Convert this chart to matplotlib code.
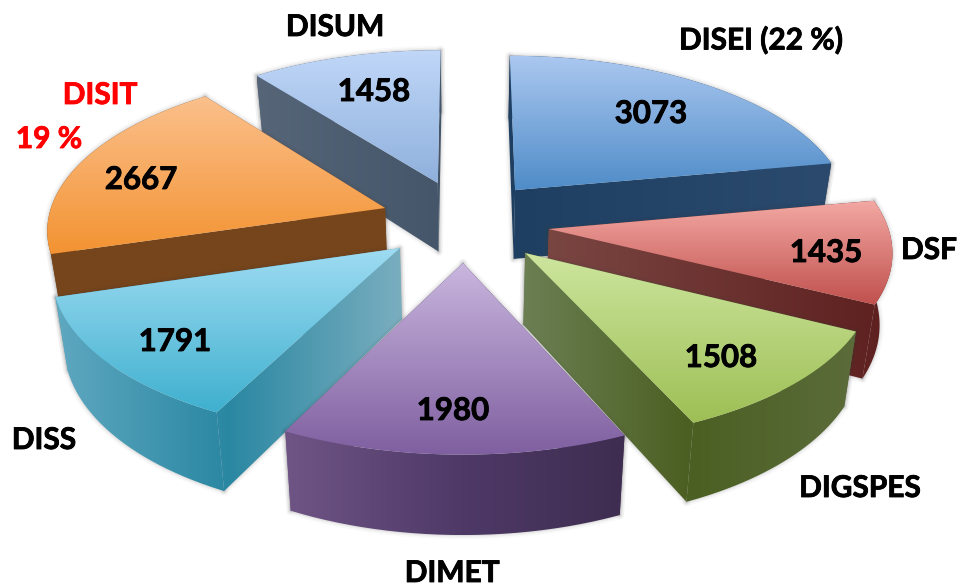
import numpy as np
import matplotlib.pyplot as plt
import matplotlib.colors as mcolors
import matplotlib.patheffects as pe
from matplotlib.path import Path
from matplotlib.patches import PathPatch

plt.rcParams['font.family'] = ['Lato', 'DejaVu Sans']

departments = ['DISEI', 'DSF', 'DIGSPES', 'DIMET', 'DISS', 'DISIT', 'DISUM']
students = [3073, 1435, 1508, 1980, 1791, 2667, 1458]
cat_labels = ['DISEI (22 %)', 'DSF', 'DIGSPES', 'DIMET', 'DISS', 'DISIT', 'DISUM']

# how far each slice is pulled out of the pie, units of the pie radius
explode_x = [0.152, 0.247, 0.174, -0.006, -0.189, -0.239, -0.083]
explode_y = [0.163, -0.089, -0.237, -0.297, -0.207, 0.045, 0.210]
draw_order = [6, 0, 5, 1, 4, 2, 3]

# perspective of the disc on the picture, in pixels
CX, CY = 465, 215
A, B, K = 336, 156, 0.12
DEPTH, DEPTH_K = 70, 0.10
X_SHRINK = 0.03

top_colors = [('#abc8f0', '#4f8cc8'), ('#f3a8a3', '#c0504d'), ('#cde59e', '#9dbf55'),
              ('#c9b6de', '#7f5fa0'), ('#9fdcf2', '#3fb0cf'), ('#fbc08c', '#f39332'),
              ('#c0d7f8', '#8fb0dc')]
wall_colors = [('#1e3f62', '#2b4a6e'), ('#7a4642', '#5d201f'), ('#6b7f53', '#4b5f22', '#5b6c3a'),
               ('#6f5585', '#4f3a68', '#3e2d50'), ('#5fa8c0', '#2a87a2', '#7aaebf'),
               ('#76451b', '#76451b'), ('#566578', '#45566a')]

value_pos = [(651, 114), (826, 253), (721, 358), (453, 411), (175, 342), (141, 180), (374, 92)]
label_pos = [(761, 40), (929, 250), (860, 488), (452, 573), (44, 440), (100, 95), (335, 27)]

BOLD = [pe.withStroke(linewidth=0.6, foreground='black')]
BOLD_RED = [pe.withStroke(linewidth=0.6, foreground='red')]


def project(x, y, z=0.0):
    w = 1 / (1 + K * y)
    drop = DEPTH / (1 + DEPTH_K * y)
    return CX + A * x * w * (1 - X_SHRINK * z), CY - B * y * w + z * drop


def gradient(ax, poly, colors, ramp, extent, zorder):
    """Fill a polygon with a linear gradient, an image clipped to the path."""
    cmap = mcolors.LinearSegmentedColormap.from_list('g', colors)
    patch = PathPatch(Path(poly), facecolor='none', edgecolor='none', zorder=zorder)
    ax.add_patch(patch)
    im = ax.imshow(ramp, cmap=cmap, extent=extent, aspect='auto', interpolation='bilinear', zorder=zorder)
    im.set_clip_path(patch)


fig = plt.figure(figsize=(9.59, 5.86), dpi=100)
ax = fig.add_axes([0, 0, 1, 1])

cum = np.cumsum([0] + students) / sum(students) * 2 * np.pi
ramp_v = np.linspace(0, 1, 256)[:, None]
ramp_h = np.linspace(0, 1, 256)[None, :]

z = 1
for i in draw_order:
    t = np.linspace(cum[i], cum[i + 1], 80)
    ox, oy = explode_x[i], explode_y[i]
    gx, gy = ox + np.sin(t), oy + np.cos(t)

    top_arc = np.column_stack(project(gx, gy))
    low_arc = np.column_stack(project(gx, gy, 1.0))
    apex = np.array(project(ox, oy))
    apex_low = np.array(project(ox, oy, 1.0))

    top = np.vstack([apex, top_arc, apex])
    outer = np.vstack([top_arc, low_arc[::-1], top_arc[:1]])
    cut0 = np.vstack([apex, top_arc[0], low_arc[0], apex_low, apex])
    cut1 = np.vstack([apex, top_arc[-1], low_arc[-1], apex_low, apex])

    # soft shadow round the whole slice
    for lw, al in [(6, 0.03), (3.5, 0.05), (1.5, 0.08)]:
        for part in (cut0, cut1, outer):
            ax.fill(part[:, 0], part[:, 1], facecolor='none', edgecolor='#404040',
                    linewidth=lw, alpha=al, joinstyle='round', zorder=z)
    z += 1

    # one horizontal ramp over all the walls of a slice
    body = np.vstack([cut0, cut1, outer])
    extent = (body[:, 0].min(), body[:, 0].max(), body[:, 1].max(), body[:, 1].min())
    for wall in (cut0, cut1, outer):
        gradient(ax, wall, wall_colors[i], ramp_h, extent, z)
    z += 1

    extent = (top[:, 0].min(), top[:, 0].max(), top[:, 1].max(), top[:, 1].min())
    gradient(ax, top, top_colors[i], ramp_v, extent, z)
    z += 1

for i, (x, y) in enumerate(value_pos):
    ax.text(x, y, str(students[i]), ha='center', va='center', fontsize=22.5, fontweight='bold',
            color='black', path_effects=BOLD, zorder=z)

for i, (x, y) in enumerate(label_pos):
    red = departments[i] == 'DISIT'
    ax.text(x, y, cat_labels[i], ha='center', va='center', fontsize=21.5, fontweight='bold',
            color='red' if red else 'black', path_effects=BOLD_RED if red else BOLD, zorder=z)
ax.text(49, 139, '19 %', ha='center', va='center', fontsize=21.5, fontweight='bold',
        color='red', path_effects=BOLD_RED, zorder=z)

ax.set_xlim(0, 959)
ax.set_ylim(586, 0)
ax.axis('off')

fig.savefig('out.png', dpi=100)
plt.close(fig)
